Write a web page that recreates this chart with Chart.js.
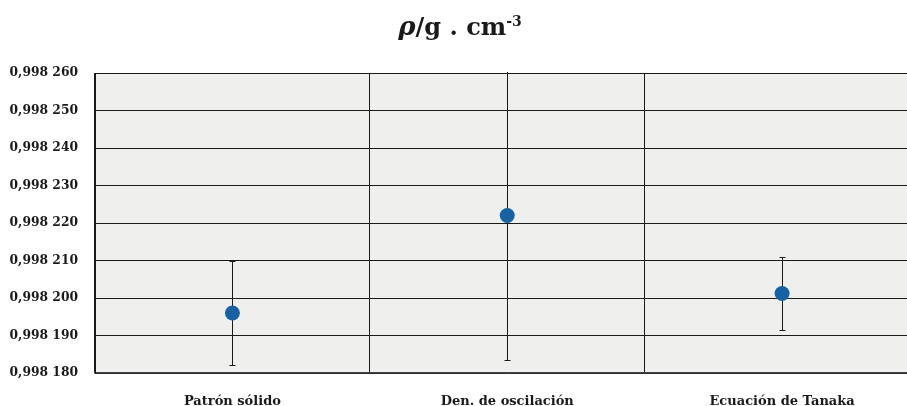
<!DOCTYPE html>
<html>
<head>
<meta charset="utf-8">
<script src="https://cdn.jsdelivr.net/npm/chart.js@4/dist/chart.umd.min.js"></script>
<style>
  html, body { margin: 0; padding: 0; background: #ffffff; overflow: hidden; }
  #c { display: block; }
</style>
</head>
<body>
<canvas id="c" width="927" height="406" style="width:927px;height:406px"></canvas>
<script>
const categories = ['Patrón sólido', 'Den. de oscilación', 'Ecuación de Tanaka'];
const densities = [0.998196, 0.998222, 0.9982012];
const uncertainties = [0.000014, 0.0000385, 0.0000098];
const tickValues = [0.99818, 0.99819, 0.99820, 0.99821, 0.99822, 0.99823, 0.99824, 0.99825, 0.99826];

const SERIF = '"DejaVu Serif", serif';

function fmtTick(v) {
  const s = Number(v).toFixed(6);
  return s.slice(0, 5).replace('.', ',') + ' ' + s.slice(5);
}

const plotBg = {
  id: 'plotBg',
  beforeDraw(chart) {
    const { ctx, chartArea: a } = chart;
    ctx.save();
    ctx.fillStyle = '#efefee';
    ctx.fillRect(a.left, a.top, a.right - a.left, a.bottom - a.top);
    ctx.restore();
  }
};

const errorBars = {
  id: 'errorBars',
  beforeDatasetsDraw(chart) {
    const { ctx, chartArea: a, scales } = chart;
    const x = scales.x, y = scales.y;
    ctx.save();
    ctx.beginPath();
    ctx.rect(a.left, a.top - 1, a.right - a.left, a.bottom - a.top + 2);
    ctx.clip();
    ctx.strokeStyle = '#1a1a1a';
    ctx.lineWidth = 1;
    densities.forEach((v, i) => {
      const px = Math.round(x.getPixelForValue(i)) + 0.5;
      const yt = Math.round(y.getPixelForValue(v + uncertainties[i])) + 0.5;
      const yb = Math.round(y.getPixelForValue(v - uncertainties[i])) + 0.5;
      ctx.beginPath();
      ctx.moveTo(px, yt); ctx.lineTo(px, yb);
      ctx.moveTo(px - 3, yt); ctx.lineTo(px + 3, yt);
      ctx.moveTo(px - 3, yb); ctx.lineTo(px + 3, yb);
      ctx.stroke();
    });
    ctx.restore();
  }
};

const richTitle = {
  id: 'richTitle',
  afterDraw(chart) {
    const ctx = chart.ctx;
    const runs = [
      { t: 'ρ', f: 'italic bold 26px ' + SERIF, dy: 0 },
      { t: '/g . cm', f: 'bold 24px ' + SERIF, dy: 0 },
      { t: '-3', f: 'bold 14px ' + SERIF, dy: -9 }
    ];
    ctx.save();
    ctx.fillStyle = '#1a1a1a';
    ctx.textBaseline = 'alphabetic';
    let total = 0;
    runs.forEach(r => { ctx.font = r.f; r.w = ctx.measureText(r.t).width; total += r.w; });
    let xx = 460 - total / 2;
    const base = 35;
    runs.forEach(r => { ctx.font = r.f; ctx.fillText(r.t, xx, base + r.dy); xx += r.w; });
    ctx.restore();
  }
};

new Chart(document.getElementById('c'), {
  type: 'line',
  data: {
    labels: categories,
    datasets: [{
      data: densities,
      showLine: false,
      pointRadius: 7.5,
      pointHoverRadius: 7.5,
      pointBackgroundColor: '#1762a3',
      pointBorderColor: '#1762a3',
      pointBorderWidth: 0
    }]
  },
  options: {
    responsive: false,
    animation: false,
    events: [],
    layout: { padding: { top: 73, right: 2, left: 0, bottom: 0 } },
    plugins: { legend: { display: false }, title: { display: false }, tooltip: { enabled: false } },
    scales: {
      x: {
        offset: true,
        grid: { offset: true, color: '#1a1a1a', lineWidth: 1, drawTicks: false },
        border: { color: '#444444', width: 1.5 },
        ticks: { padding: 21, color: '#1a1a1a', font: { family: SERIF, weight: 'bold', size: 13 } },
        afterFit(s) { s.height = 33; }
      },
      y: {
        min: 0.99818,
        max: 0.99826,
        afterBuildTicks(s) { s.ticks = tickValues.map(v => ({ value: v })); },
        grid: { color: '#1a1a1a', lineWidth: 1, drawTicks: false },
        border: { color: '#1a1a1a', width: 1 },
        ticks: { padding: 17, color: '#1a1a1a', font: { family: SERIF, weight: 'bold', size: 12.3 }, callback: fmtTick },
        afterFit(s) { s.width = 95; }
      }
    }
  },
  plugins: [plotBg, errorBars, richTitle]
});
</script>
</body>
</html>
